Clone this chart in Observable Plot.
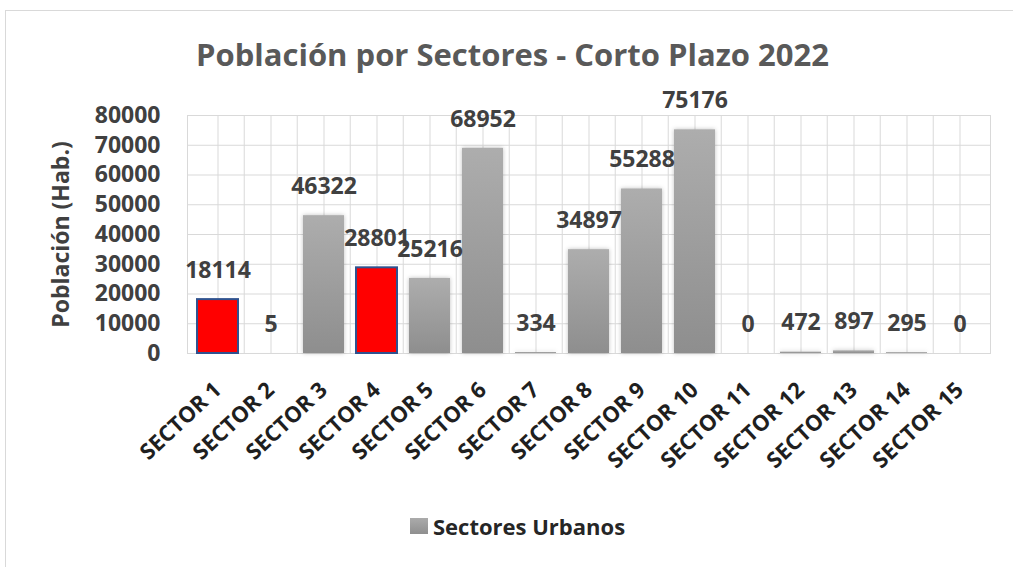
<!DOCTYPE html>
<html><head><meta charset="utf-8">
<script src="https://cdn.jsdelivr.net/npm/d3@7"></script>
<script src="https://cdn.jsdelivr.net/npm/@observablehq/plot@0.6"></script>
<style>
body{margin:0;background:#fff;font-family:"Open Sans",sans-serif;}
#wrap{position:relative;width:1013px;height:567px;overflow:hidden;background:#fff;}
#border{position:absolute;left:5px;top:10px;width:1100px;height:700px;border:1px solid #d9d9d9;}
#title{position:absolute;left:6px;width:1013px;top:33px;text-align:center;font-size:31px;font-weight:700;color:#595959;white-space:nowrap;}
#chart{position:absolute;left:0;top:90px;}
#legend{position:absolute;left:410px;top:511px;font-size:22px;font-weight:700;color:#262626;display:flex;align-items:center;}
#legend .sw{width:18px;height:16px;background:linear-gradient(#ababab,#8f8f8f);margin-right:5px;}
</style></head>
<body>
<div id="wrap">
  <div id="border"></div>
  <div id="title">Población por Sectores - Corto Plazo 2022</div>
  <div id="chart"></div>
  <div id="legend"><div class="sw"></div><span id="legtext"></span></div>
</div>
<script>
const sectors = ["SECTOR 1","SECTOR 2","SECTOR 3","SECTOR 4","SECTOR 5","SECTOR 6","SECTOR 7","SECTOR 8","SECTOR 9","SECTOR 10","SECTOR 11","SECTOR 12","SECTOR 13","SECTOR 14","SECTOR 15"];
const population = [18114,5,46322,28801,25216,68952,334,34897,55288,75176,0,472,897,295,0];
const highlighted = ["SECTOR 1","SECTOR 4"];
const yTicks = [0,10000,20000,30000,40000,50000,60000,70000,80000];
const seriesName = "Sectores Urbanos";
const yLabel = "Población (Hab.)";

document.getElementById("legtext").textContent = seriesName;

const data = sectors.map((s,i)=>({sector:s, value:population[i], hl: highlighted.includes(s)}));
const W = 1013, H = 420, mL = 187, mR = 23, mT = 25, mB = 157;
const step = (W - mL - mR) / sectors.length;
const grid = "#d9d9d9";

const chart = Plot.plot({
  width: W, height: H,
  marginLeft: mL, marginRight: mR, marginTop: mT, marginBottom: mB,
  style: {fontFamily: "'Open Sans', sans-serif", fontWeight: 700, overflow: "visible", background: "transparent"},
  x: {domain: sectors, paddingInner: 0.22, paddingOuter: 0.11},
  y: {domain: [0, 80000]},
  marks: [
    Plot.gridY(yTicks, {stroke: grid, strokeOpacity: 1}),
    Plot.gridX(sectors, {stroke: grid, strokeOpacity: 1}),
    Plot.ruleX(sectors.slice(1), {x: d=>d, dx: -step/2, stroke: grid}),
    Plot.frame({stroke: grid}),
    Plot.barY(data.filter(d=>!d.hl), {x: "sector", y: "value", fill: "url(#barGrad)"}),
    Plot.barY(data.filter(d=>d.hl), {x: "sector", y: "value", fill: "#ff0000", stroke: "#2f528f", strokeWidth: 2}),
    Plot.text(data, {x: "sector", y: "value", text: d=>String(d.value), dy: -29, lineAnchor: "middle", fontSize: 23, fontWeight: 700, fill: "#404040"}),
    Plot.axisY(yTicks, {tickSize: 0, tickPadding: 27, tickFormat: d=>String(d), fontSize: 23, fontWeight: 700, fill: "#404040",
      label: yLabel, labelAnchor: "center", labelOffset: 135, labelArrow: false}),
    Plot.axisX(sectors, {tickSize: 0, tickPadding: 33, tickRotate: -43, fontSize: 22, fontWeight: 700, fill: "#1f1f1f", label: null})
  ]
});
const svgNS = "http://www.w3.org/2000/svg";
const defs = document.createElementNS(svgNS, "defs");
defs.innerHTML = '<linearGradient id="barGrad" x1="0" y1="0" x2="0" y2="1"><stop offset="0" stop-color="#adadad"/><stop offset="1" stop-color="#8e8e8e"/></linearGradient>';
chart.insertBefore(defs, chart.firstChild);
const barGroups = chart.querySelectorAll('g[aria-label="bar"]');
if (barGroups.length) barGroups[0].style.filter = "drop-shadow(0px 0px 2px rgba(0,0,0,0.25))";
document.getElementById("chart").appendChild(chart);
</script>
</body></html>
